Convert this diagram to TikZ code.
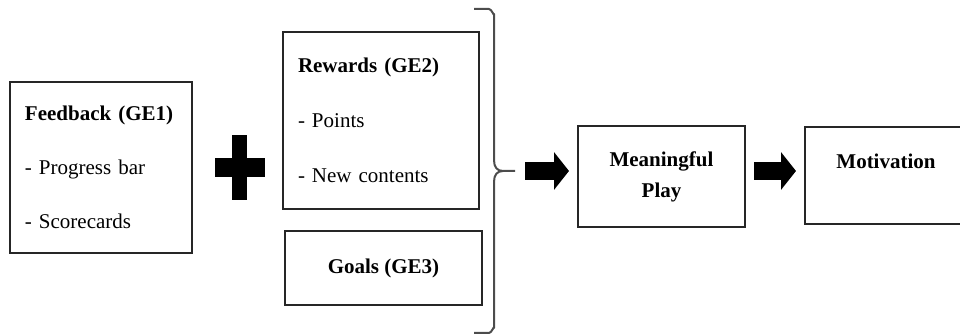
\documentclass[tikz,border=0pt]{standalone}
\usepackage{fontspec}
\setmainfont{Liberation Serif}
\usetikzlibrary{arrows.meta,positioning}

\begin{document}
\begin{tikzpicture}[
    x=0.5pt, y=-0.5pt,
    block/.style={
      draw=black!85,
      line width=1pt,
      inner sep=0pt,
      font=\fontsize{10.5pt}{27pt}\selectfont,
    },
    listbox/.style={
      block,
      align=left,
      inner xsep=7.5pt,
    },
    header/.style={font=\bfseries\fontsize{10.5pt}{15.5pt}\selectfont},
    arrow/.style={
      -{Triangle[length=7.5pt,width=18.5pt]},
      line width=9.25pt,
      draw=black,
      shorten <=4pt,
      shorten >=4pt,
    },
    bracket/.style={
      draw=black!70,
      line width=1pt,
      line join=round,
    },
  ]
  \useasboundingbox (0,0) rectangle (960,335);
  \clip (0,0) rectangle (960,335);

  % game elements
  \node[listbox, text width=76pt, minimum height=85.5pt] (feedback) at (101,167.5) {%
    \textbf{Feedback (GE1)}\\
    - Progress bar\\
    - Scorecards};
  \node[listbox, text width=83pt, minimum height=88.5pt,
        font=\fontsize{10.5pt}{27.5pt}\selectfont] (rewards) at (381,120.5) {%
    \textbf{Rewards (GE2)}\\
    - Points\\
    - New contents};
  \node[block, header, minimum width=98.5pt, minimum height=37pt] (goals) at (383.5,268) {Goals (GE3)};

  % plus sign
  \fill (215,158) rectangle (265,177);
  \fill (232,135) rectangle (247,200);

  % bracket round GE2 and GE3
  \coordinate (bracetip) at (515,171);
  \draw[bracket] (474,9) -- (489,9) to[out=0,in=-90] (494,14) -- (494,160)
    .. controls (494,167) and (497,171) .. (503,171) -- (bracetip);
  \draw[bracket] (474,333) -- (489,333) to[out=0,in=90] (494,328) -- (494,182)
    .. controls (494,175) and (497,171) .. (503,171);

  % outcomes
  \node[block, header, align=center, minimum width=83.5pt, minimum height=50.5pt] (play) at (661.5,176.5) {Meaningful\\Play};
  \node[block, header, text depth=14pt, minimum width=81pt, minimum height=48.5pt] (motiv) at (886,175.5) {Motivation};

  \draw[arrow, shorten <=5pt] (bracetip) -- (bracetip -| play.west);
  \draw[arrow] (play.east |- bracetip) -- (motiv.west |- bracetip);
\end{tikzpicture}
\end{document}
